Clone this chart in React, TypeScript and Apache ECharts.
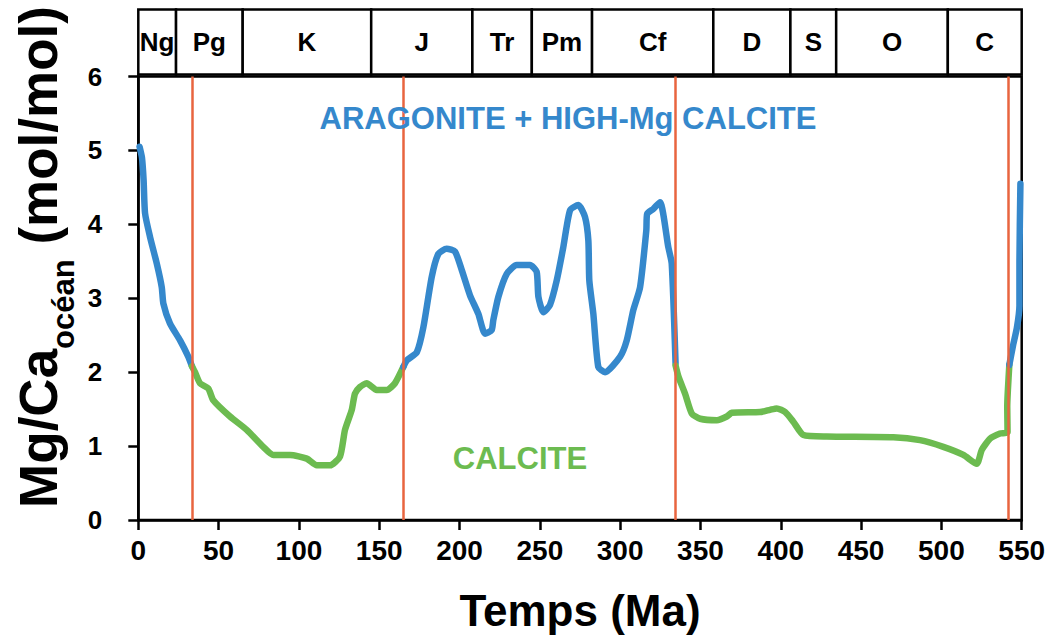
import React, { useEffect, useRef } from "react";
import * as echarts from "echarts";

const FF = '"Liberation Sans", Arial, Helvetica, sans-serif';
const BLUE = "#3588cc";
const GREEN = "#6cbb50";
const RED = "#e8653f";

// geological periods (top band)
const periodNames = ["Ng", "Pg", "K", "J", "Tr", "Pm", "Cf", "D", "S", "O", "C"];
const periodBounds = [0, 23.5, 65, 145, 208, 245, 282.5, 358, 406, 434.5, 504, 550];

// red vertical boundaries (Ma)
const boundaryAges = [33.4, 165, 334.5, 541.7];

// curve segments (age in Ma, Mg/Ca mol/mol)
const blue1Age = [0.8, 2.3, 3.3, 4.2, 7.3, 11.5, 14.6, 15.6, 19.7, 26, 31.1, 33.4];
const blue1Val = [5.05, 4.9, 4.6, 4.15, 3.83, 3.47, 3.15, 2.93, 2.66, 2.43, 2.21, 2.08];

const green1Age = [33.4, 35.3, 38.4, 43.6, 46.7, 57.1, 67.5, 77.8, 84.1, 94.5, 104.9, 111.1, 119.4, 125.6, 128.7, 132.9, 134.9, 138, 142.2, 148.4, 154.7, 159.8, 165];
const green1Val = [2.08, 2.0, 1.85, 1.78, 1.62, 1.4, 1.22, 0.99, 0.88, 0.88, 0.83, 0.74, 0.74, 0.86, 1.22, 1.49, 1.71, 1.8, 1.85, 1.76, 1.76, 1.85, 2.07];

const blue2Age = [165, 167.2, 173.4, 177.5, 182.7, 186.8, 192, 197.2, 201.4, 206.5, 211.7, 215.9, 220, 221, 224.2, 229.4, 235.6, 243.9, 248, 249.1, 252.2, 256.3, 260.5, 264.6, 268.8, 274, 278.1, 280.2, 280.8, 283.3, 286.4, 290.6, 300, 304.1, 308.2, 312.4, 316.3, 316.8, 320.7, 324.8, 330, 332.1, 334.5];
const blue2Val = [2.07, 2.16, 2.27, 2.61, 3.29, 3.6, 3.67, 3.63, 3.38, 3.04, 2.79, 2.52, 2.57, 2.7, 3.02, 3.33, 3.45, 3.45, 3.36, 3.02, 2.81, 2.91, 3.24, 3.69, 4.19, 4.26, 4.1, 3.78, 3.24, 2.79, 2.07, 2.0, 2.21, 2.43, 2.84, 3.15, 3.92, 4.14, 4.21, 4.3, 3.69, 3.47, 2.12];

const green2Age = [334.5, 336.3, 340.4, 344.6, 349.8, 360.2, 366.4, 369.5, 387.1, 393.3, 397.5, 402.7, 407.8, 414.1, 428.6, 470.1, 486.7, 501.2, 513.7, 522, 525.2, 530.3, 536.5, 541.2, 541.0, 541.4, 542.3];
const green2Val = [2.09, 1.94, 1.71, 1.44, 1.37, 1.35, 1.4, 1.45, 1.46, 1.49, 1.51, 1.46, 1.33, 1.15, 1.13, 1.12, 1.08, 0.99, 0.88, 0.76, 0.95, 1.1, 1.17, 1.19, 1.53, 1.76, 2.1];

const blue3Age = [542.3, 544.5, 547, 548.6, 548.6, 549.2];
const blue3Val = [2.1, 2.35, 2.6, 2.9, 3.5, 4.55];

const zip = (a: number[], v: number[]) => a.map((x, i) => [x, v[i]]);

const curve = (age: number[], val: number[], color: string) => ({
  type: "line",
  xAxisIndex: 0,
  yAxisIndex: 0,
  data: zip(age, val),
  symbol: "none",
  showSymbol: false,
  smooth: 0.2,
  silent: true,
  z: 3,
  lineStyle: { color, width: 6.5, cap: "round", join: "round" },
});

export default function App() {
  const ref = useRef<HTMLDivElement>(null);
  useEffect(() => {
    const chart = echarts.init(ref.current!, null, { renderer: "svg" });
    const axisLineStyle = { color: "#000", width: 2.5 };
    const option: any = {
      animation: false,
      backgroundColor: "#fff",
      textStyle: { fontFamily: FF },
      grid: [
        { left: 138.3, right: 31.3, top: 76.5, bottom: 124, show: true, borderColor: "#000", borderWidth: 2.5, containLabel: false, outerBoundsMode: "none" },
        { left: 138.3, right: 31.3, top: 9.5, height: 65, containLabel: false, outerBoundsMode: "none" },
      ],
      xAxis: [
        {
          type: "value", gridIndex: 0, min: 0, max: 550, interval: 50,
          axisLine: { show: true, onZero: false, lineStyle: axisLineStyle },
          axisTick: { show: true, length: 10, lineStyle: axisLineStyle },
          axisLabel: { color: "#000", fontSize: 28, fontWeight: "bold", margin: 16, fontFamily: FF },
          splitLine: { show: false },
          name: "Temps (Ma)", nameLocation: "middle", nameGap: 68,
          nameTextStyle: { color: "#000", fontSize: 44, fontWeight: "bold", fontFamily: FF },
        },
        { type: "value", gridIndex: 1, min: 0, max: 550, show: false },
      ],
      yAxis: [
        {
          type: "value", gridIndex: 0, min: 0, max: 6, interval: 1,
          axisLine: { show: true, onZero: false, lineStyle: axisLineStyle },
          axisTick: { show: true, length: 10, lineStyle: axisLineStyle },
          axisLabel: { color: "#000", fontSize: 26, fontWeight: "bold", margin: 36, fontFamily: FF },
          splitLine: { show: false },
        },
        { type: "value", gridIndex: 1, min: 0, max: 1, show: false },
      ],
      series: [
        {
          type: "line", xAxisIndex: 0, yAxisIndex: 0, data: [], z: 1, silent: true,
          markLine: {
            silent: true, symbol: ["none", "none"], label: { show: false },
            lineStyle: { color: RED, width: 2.5, type: "solid" },
            emphasis: { disabled: true },
            data: boundaryAges.map((a) => ({ xAxis: a })),
          },
        },
        curve(blue1Age, blue1Val, BLUE),
        curve(green1Age, green1Val, GREEN),
        curve(blue2Age, blue2Val, BLUE),
        curve(green2Age, green2Val, GREEN),
        curve(blue3Age, blue3Val, BLUE),
        {
          type: "custom", xAxisIndex: 1, yAxisIndex: 1, silent: true,
          data: periodNames.map((n, i) => ({ name: n, value: [periodBounds[i], periodBounds[i + 1]] })),
          encode: { x: [0, 1] },
          renderItem: (params: any, api: any) => {
            const s = api.coord([api.value(0), 1]);
            const e = api.coord([api.value(1), 0]);
            return {
              type: "group",
              children: [
                { type: "rect", shape: { x: s[0], y: s[1], width: e[0] - s[0], height: e[1] - s[1] }, style: { fill: "#fff", stroke: "#000", lineWidth: 2.5 } },
                {
                  type: "text",
                  style: {
                    text: periodNames[params.dataIndex], x: (s[0] + e[0]) / 2, y: (s[1] + e[1]) / 2,
                    align: "center", verticalAlign: "middle", fill: "#000",
                    fontSize: 26, fontWeight: "bold", fontFamily: FF,
                  },
                },
              ],
            };
          },
        },
      ],
      graphic: [
        {
          type: "text", x: 38, y: 257, rotation: Math.PI / 2, z: 10,
          style: {
            text: "{a|Mg/Ca}{b|océan}{a| (mol/mol)}",
            align: "center", verticalAlign: "middle",
            rich: {
              a: { fontSize: 53, lineHeight: 53, fontWeight: "bold", fontFamily: FF, fill: "#000", color: "#000", verticalAlign: "top" },
              b: { fontSize: 31, lineHeight: 31, fontWeight: "bold", fontFamily: FF, fill: "#000", color: "#000", verticalAlign: "top", padding: [36, 0, 0, 0] },
            },
          },
        },
        {
          type: "text", x: 568, y: 118, z: 10,
          style: { text: "ARAGONITE + HIGH-Mg CALCITE", align: "center", verticalAlign: "middle", fill: BLUE, fontSize: 31, fontWeight: "bold", fontFamily: FF },
        },
        {
          type: "text", x: 520, y: 458, z: 10,
          style: { text: "CALCITE", align: "center", verticalAlign: "middle", fill: GREEN, fontSize: 31, fontWeight: "bold", fontFamily: FF },
        },
      ],
    };
    chart.setOption(option);
    return () => chart.dispose();
  }, []);
  return (
    <div
      ref={ref}
      style={{ position: "absolute", left: 0, top: 0, width: 1053, height: 644, background: "#fff" }}
    />
  );
}
